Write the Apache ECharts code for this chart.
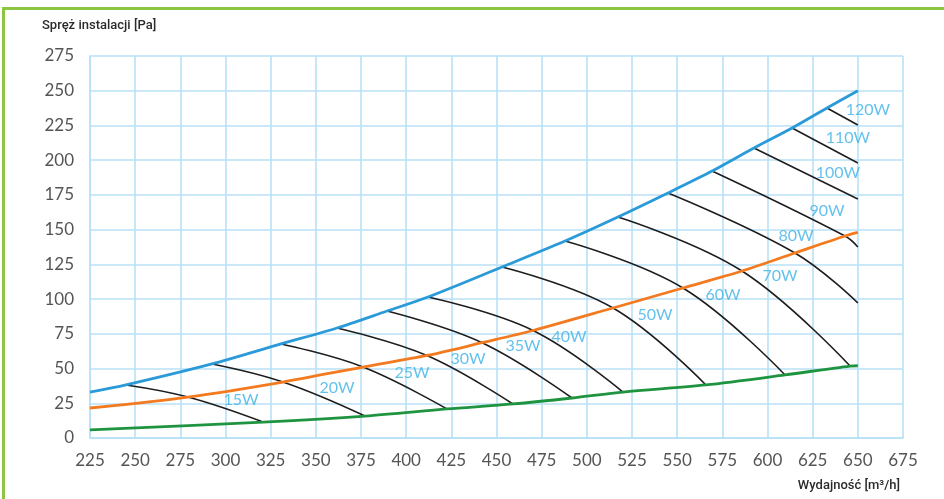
<!DOCTYPE html>
<html>
<head>
<meta charset="utf-8">
<script src="https://cdn.jsdelivr.net/npm/echarts@6/dist/echarts.min.js"></script>
<style>
  html, body { margin: 0; padding: 0; background: #fff; }
  #chart { width: 944px; height: 499px; }
</style>
</head>
<body>
<div id="chart"></div>
<script>
// Axis ranges (airflow in m³/h, pressure in Pa)
const flowRange = [225, 675];
const pressureRange = [0, 275];
const tickStep = 25;

// Upper system curve (blue)
const upperCurve = [
  [225, 33], [244.9, 38.2], [292.5, 53.3], [330.7, 67.7], [361.7, 79.2],
  [389.4, 91.4], [412.1, 101.5], [453, 123.1], [487.9, 141.8], [517.2, 159.1],
  [544.9, 176.4], [569.3, 192.2], [592.5, 208.8], [613.6, 223.2], [632.9, 237.6],
  [650, 250]
];

// Middle system curve (orange)
const middleCurve = [
  [225, 21.6], [279.2, 29.5], [331.8, 40.3], [376.1, 51.1], [411.5, 59.4],
  [442, 68.6], [470.2, 77.4], [514.5, 93.6], [553.2, 108], [585.9, 120.2],
  [615.2, 133.2], [642.9, 145.4], [650, 148]
];

// Lower system curve (green)
const lowerCurve = [
  [225, 5.8], [320.8, 11.5], [377.2, 15.8], [422.6, 20.9], [459.1, 24.5],
  [491.8, 28.8], [520, 33.1], [565.9, 38.2], [609.7, 45.4], [645.7, 51.8],
  [650, 52]
];

// Fan power consumption names
const powerNames = ['15W', '20W', '25W', '30W', '35W', '40W', '50W',
  '60W', '70W', '80W', '90W', '100W', '110W', '120W'];

// Constant power isolines: upper curve -> middle curve -> lower curve / 650 m³/h
const powerLines = [
  [[244.9, 38.2], [279.2, 29.5], [320.8, 11.5]],
  [[292.5, 53.3], [331.8, 40.3], [377.2, 15.8]],
  [[330.7, 67.7], [376.1, 51.1], [422.6, 20.9]],
  [[361.7, 79.2], [411.5, 59.4], [459.1, 24.5]],
  [[389.4, 91.4], [442, 68.6], [491.8, 28.8]],
  [[412.1, 101.5], [470.2, 77.4], [520, 33.1]],
  [[453, 123.1], [514.5, 93.6], [565.9, 38.2]],
  [[487.9, 141.8], [553.2, 108], [609.7, 45.4]],
  [[517.2, 159.1], [585.9, 120.2], [645.7, 51.8]],
  [[544.9, 176.4], [615.2, 133.2], [650, 97.2]],
  [[569.3, 192.2], [642.9, 145.4], [650, 137.5]],
  [[592.5, 208.8], [650, 172.1]],
  [[613.6, 223.2], [650, 198]],
  [[632.9, 237.6], [650, 225.3]]
];

// Where each power name sits (data coordinates)
const powerNameAt = [
  [308.6, 27.4], [361.7, 36.0], [403.2, 46.8], [434.2, 56.9], [464.7, 66.2],
  [490.1, 72.7], [537.7, 88.5], [575.4, 103], [606.9, 116.6], [615.8, 145.4],
  [632.9, 163.4], [639.0, 190.8], [644.5, 216], [655.6, 236.1]
];

const gridBlue = '#b8e1f5';
const axisFont = 'Lato, "Open Sans", sans-serif';

const chart = echarts.init(document.getElementById('chart'), null, { renderer: 'canvas' });

const series = [];

powerLines.forEach((pts, i) => {
  series.push({
    type: 'line',
    name: 'iso' + i,
    data: pts,
    smooth: 0.4,
    symbol: 'none',
    silent: true,
    z: 3,
    lineStyle: { color: '#1e1e1e', width: 1.6 }
  });
});

[[upperCurve, '#2a9ad8'], [middleCurve, '#f47a1f'], [lowerCurve, '#1f9440']].forEach(([pts, col]) => {
  series.push({
    type: 'line',
    data: pts,
    smooth: 0.3,
    symbol: 'none',
    silent: true,
    z: 4,
    lineStyle: { color: col, width: 2.8 }
  });
});

series.push({
  type: 'scatter',
  data: powerNames.map((n, i) => ({ name: n, value: powerNameAt[i] })),
  symbolSize: 1,
  itemStyle: { color: 'rgba(0,0,0,0)' },
  silent: true,
  z: 5,
  label: {
    show: true,
    position: 'inside',
    formatter: '{b}',
    color: '#3db2e6',
    fontFamily: axisFont,
    fontSize: 16
  }
});

chart.setOption({
  animation: false,
  backgroundColor: '#ffffff',
  grid: { left: 90, right: 41, top: 56, bottom: 61, containLabel: false },
  xAxis: {
    type: 'value',
    min: flowRange[0],
    max: flowRange[1],
    interval: tickStep,
    axisLine: { show: true, lineStyle: { color: gridBlue, width: 1.6 } },
    axisTick: { show: false },
    splitLine: { show: true, lineStyle: { color: gridBlue, width: 1.6 } },
    axisLabel: { color: '#555', fontFamily: axisFont, fontSize: 17, margin: 14 }
  },
  yAxis: {
    type: 'value',
    min: pressureRange[0],
    max: pressureRange[1],
    interval: tickStep,
    axisLine: { show: true, lineStyle: { color: gridBlue, width: 1.6 } },
    axisTick: { show: false },
    splitLine: { show: true, lineStyle: { color: gridBlue, width: 1.6 } },
    axisLabel: { color: '#555', fontFamily: axisFont, fontSize: 17, margin: 16 }
  },
  graphic: [
    {
      type: 'polyline',
      shape: { points: [[3.5, 499], [3.5, 8.5], [944, 8.5]] },
      style: { stroke: '#8cc540', lineWidth: 3, fill: null },
      silent: true
    },
    {
      type: 'text',
      left: 42,
      top: 19,
      style: {
        text: 'Spręż instalacji [Pa]',
        fill: '#2b2b2b',
        font: '500 13px Roboto, sans-serif'
      }
    },
    {
      type: 'text',
      right: 44,
      top: 479,
      style: {
        text: 'Wydajność [m³/h]',
        fill: '#2b2b2b',
        font: '500 13px Roboto, sans-serif'
      }
    }
  ],
  series: series
});
</script>
</body>
</html>
